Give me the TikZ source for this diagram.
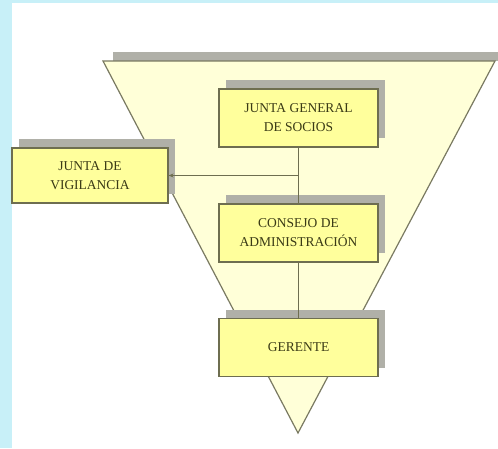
\documentclass[tikz,border=0pt]{standalone}
\usepackage{fontspec}
\setmainfont{Liberation Serif}
\usetikzlibrary{arrows.meta,calc}
\definecolor{cyanbg}{HTML}{C8F0F8}
\definecolor{trifill}{HTML}{FFFFD8}
\definecolor{trieline}{HTML}{7A7A62}
\definecolor{boxfill}{HTML}{FFFF9C}
\definecolor{boxline}{HTML}{6E6E50}
\definecolor{shadowc}{HTML}{B0B0A8}
\definecolor{txtc}{HTML}{3A3A16}
\begin{document}
\begin{tikzpicture}[x=1pt,y=-1pt,
  orgbox/.style={draw=boxline,line width=1.2pt,fill=boxfill,align=center,
    minimum width=159pt,minimum height=58pt,inner sep=0pt,
    font=\fontsize{13.5}{19}\selectfont,text=txtc},
  shadowbox/.style={fill=shadowc,minimum width=159pt,minimum height=58pt,inner sep=0pt},
  conn/.style={draw=boxline,line width=1pt}]
\useasboundingbox (0,0) rectangle (498,448);
\fill[white] (0,0) rectangle (498,448);
\fill[cyanbg] (0,0) rectangle (12,448);
\fill[cyanbg] (0,0) rectangle (498,3);
% triangle shadow strip and triangle
\fill[shadowc] (113,52) rectangle (498,61);
\filldraw[fill=trifill,draw=trieline,line width=1.2pt] (103,61) -- (495,61) -- (298,433) -- cycle;
% shadows
\node[shadowbox] (sJG) at (305,109) {};
\node[shadowbox,minimum width=156pt,minimum height=55pt] (sJV) at (97,166.5) {};
\node[shadowbox] (sCA) at (305,224) {};
\node[shadowbox] (sGE) at (305,338.5) {};
% boxes
\node[orgbox] (JG) at (298.5,118) {JUNTA GENERAL\\DE SOCIOS};
\node[orgbox,minimum width=156pt,minimum height=55pt] (JV) at (90,175.5) {JUNTA DE\\VIGILANCIA};
\node[orgbox] (CA) at (298.5,233) {CONSEJO DE\\ADMINISTRACIÓN};
\node[orgbox] (GE) at (298.5,347.5) {GERENTE};
% connectors
\coordinate (J) at ($(JG.south)!0.5!(CA.north)$);
\draw[conn] (JG.south) -- (CA.north);
\draw[conn] (CA.south) -- (GE.north);
\draw[conn,-{Stealth[length=5pt,width=4pt]}] (J) -- (J -| JV.east);
\end{tikzpicture}
\end{document}
